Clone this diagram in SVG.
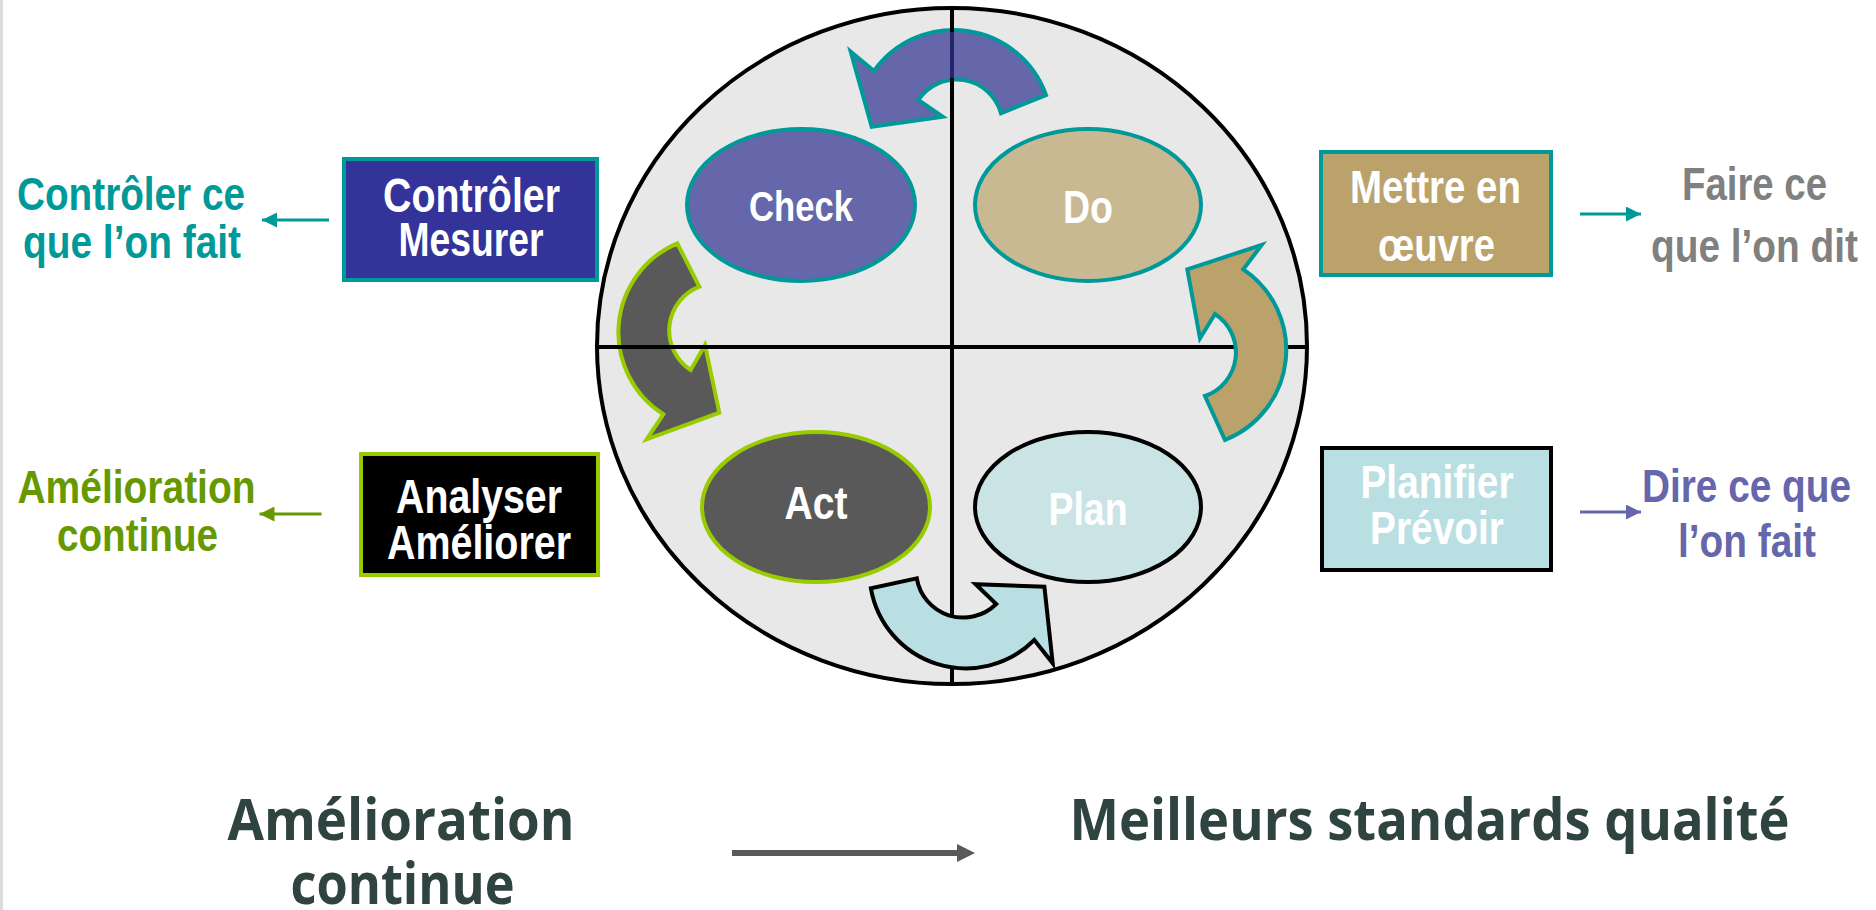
<svg xmlns="http://www.w3.org/2000/svg" width="1876" height="910" viewBox="0 0 1876 910">
<style>
.n{font-family:"Liberation Sans Narrow","Liberation Sans",Arial,sans-serif;font-weight:bold;text-anchor:middle}
.w{fill:#ffffff}
.b{font-family:"Open Sans","Noto Sans","Liberation Sans",sans-serif;font-weight:bold;text-anchor:middle;fill:#2f4340;font-size:58px}
.ln{stroke:#000;stroke-width:4;fill:none}
</style>
<defs>
<marker id="mTeal" viewBox="0 0 10 10" refX="10" refY="5" markerWidth="5" markerHeight="5" orient="auto" markerUnits="strokeWidth"><path d="M0 0L10 5L0 10Z" fill="#009999"/></marker>
<marker id="mOlive" viewBox="0 0 10 10" refX="10" refY="5" markerWidth="5" markerHeight="5" orient="auto" markerUnits="strokeWidth"><path d="M0 0L10 5L0 10Z" fill="#669900"/></marker>
<marker id="mPurple" viewBox="0 0 10 10" refX="10" refY="5" markerWidth="5" markerHeight="5" orient="auto" markerUnits="strokeWidth"><path d="M0 0L10 5L0 10Z" fill="#6666aa"/></marker>
</defs>
<rect x="0" y="0" width="1876" height="910" fill="#ffffff"/>
<rect x="0" y="0" width="3" height="910" fill="#dcdcdc"/>

<g id="cycle">
<ellipse cx="952" cy="346" rx="355" ry="338" fill="#e8e8e8" stroke="#000" stroke-width="4"/>
<path id="arrow-check-act" d="M677.3 243.3 L699.3 286.7 A47 47 0 0 0 690.7 370 L705 345 L719.3 412.7 L646.7 439.3 L663.3 414.3 A97 97 0 0 1 677.3 243.3 Z" fill="#595959" stroke="#99cc00" stroke-width="4" stroke-linejoin="miter"/>
<path id="arrow-do-check" d="M1046 95 A98 98 0 0 0 874 71 L850.7 51.7 L871.7 126.7 L942.7 116.7 L918.3 100 A46 46 0 0 1 1001 113.3 Z" fill="#6666aa" stroke="#009999" stroke-width="4"/>
<line class="ln" x1="952" y1="8" x2="952" y2="684"/>
<line class="ln" x1="597" y1="347" x2="1307" y2="347"/>
<line x1="952" y1="32" x2="952" y2="78" stroke="#25256b" stroke-width="4"/>
<path id="arrow-plan-do" d="M1225 440 A97 97 0 0 0 1243.3 269.3 L1261.7 245 L1187.3 269.3 L1200 338.3 L1215 314 A46 46 0 0 1 1205 396 Z" fill="#bba26b" stroke="#009999" stroke-width="4"/>
<path id="arrow-act-plan" d="M870.9 588.3 A96.5 96.5 0 0 0 1034.3 640 L1052.7 663.3 L1044.4 586.7 L975.6 584.3 L996.2 604 A47 47 0 0 1 916.8 578.3 Z" fill="#b9dfe3" stroke="#000" stroke-width="4"/>
</g>

<g id="node-check">
<ellipse cx="801" cy="205" rx="114" ry="76" fill="#6666aa" stroke="#009999" stroke-width="4"/>
<text class="n w" x="801" y="221" font-size="42" textLength="104" lengthAdjust="spacingAndGlyphs">Check</text>
</g>
<g id="node-do">
<ellipse cx="1088" cy="205" rx="113" ry="76" fill="#c9b993" stroke="#009999" stroke-width="4"/>
<text class="n w" x="1088" y="223" font-size="46" textLength="50" lengthAdjust="spacingAndGlyphs">Do</text>
</g>
<g id="node-act">
<ellipse cx="816" cy="507" rx="114" ry="75" fill="#595959" stroke="#99cc00" stroke-width="4"/>
<text class="n w" x="816" y="519" font-size="47" textLength="63" lengthAdjust="spacingAndGlyphs">Act</text>
</g>
<g id="node-plan">
<ellipse cx="1088" cy="507" rx="113" ry="75" fill="#cae3e5" stroke="#000" stroke-width="4"/>
<text class="n w" x="1088" y="525" font-size="47" textLength="79" lengthAdjust="spacingAndGlyphs">Plan</text>
</g>

<g id="box-controler">
<rect x="344" y="159" width="253" height="121" fill="#333399" stroke="#009999" stroke-width="4"/>
<text class="n w" x="471.5" y="211.5" font-size="48" textLength="177" lengthAdjust="spacingAndGlyphs">Contrôler</text>
<text class="n w" x="471" y="256" font-size="48" textLength="145" lengthAdjust="spacingAndGlyphs">Mesurer</text>
</g>
<g id="box-analyser">
<rect x="361" y="454" width="237" height="121" fill="#000000" stroke="#99cc00" stroke-width="4"/>
<text class="n w" x="479" y="513" font-size="48" textLength="166" lengthAdjust="spacingAndGlyphs">Analyser</text>
<text class="n w" x="479" y="559" font-size="48" textLength="184" lengthAdjust="spacingAndGlyphs">Améliorer</text>
</g>
<g id="box-mettre">
<rect x="1321" y="152" width="230" height="123" fill="#bba26b" stroke="#009999" stroke-width="4"/>
<text class="n w" x="1435.5" y="203" font-size="47" textLength="171" lengthAdjust="spacingAndGlyphs">Mettre en</text>
<text class="n w" x="1436.5" y="260.5" font-size="47" textLength="117" lengthAdjust="spacingAndGlyphs">œuvre</text>
</g>
<g id="box-planifier">
<rect x="1322" y="448" width="229" height="122" fill="#b9dfe3" stroke="#000" stroke-width="4"/>
<text class="n w" x="1437" y="498" font-size="47" textLength="153" lengthAdjust="spacingAndGlyphs">Planifier</text>
<text class="n w" x="1437" y="544" font-size="47" textLength="134" lengthAdjust="spacingAndGlyphs">Prévoir</text>
</g>

<g id="label-controler">
<text class="n" fill="#009999" x="131" y="210" font-size="46" textLength="228" lengthAdjust="spacingAndGlyphs">Contrôler ce</text>
<text class="n" fill="#009999" x="132" y="258" font-size="46" textLength="218" lengthAdjust="spacingAndGlyphs">que l’on fait</text>
</g>
<g id="label-amelioration">
<text class="n" fill="#669900" x="136.5" y="503" font-size="46" textLength="238" lengthAdjust="spacingAndGlyphs">Amélioration</text>
<text class="n" fill="#669900" x="137.5" y="551" font-size="46" textLength="161" lengthAdjust="spacingAndGlyphs">continue</text>
</g>
<g id="label-faire">
<text class="n" fill="#808080" x="1754.5" y="200" font-size="46" textLength="145" lengthAdjust="spacingAndGlyphs">Faire ce</text>
<text class="n" fill="#808080" x="1754.5" y="262" font-size="46" textLength="207" lengthAdjust="spacingAndGlyphs">que l’on dit</text>
</g>
<g id="label-dire">
<text class="n" fill="#6666aa" x="1746.5" y="502" font-size="46" textLength="209" lengthAdjust="spacingAndGlyphs">Dire ce que</text>
<text class="n" fill="#6666aa" x="1747" y="557" font-size="46" textLength="138" lengthAdjust="spacingAndGlyphs">l’on fait</text>
</g>

<g id="bottom">
<text class="b" x="401" y="840" textLength="347" lengthAdjust="spacingAndGlyphs">Amélioration</text>
<text class="b" x="402.5" y="904" textLength="224" lengthAdjust="spacingAndGlyphs">continue</text>
<text class="b" x="1429.5" y="840" textLength="720" lengthAdjust="spacingAndGlyphs">Meilleurs standards qualité</text>
</g>

<g id="connectors">
<line x1="329" y1="220" x2="262" y2="220" stroke="#009999" stroke-width="3" marker-end="url(#mTeal)"/>
<line x1="321.5" y1="514" x2="259.5" y2="514" stroke="#669900" stroke-width="3" marker-end="url(#mOlive)"/>
<line x1="1580" y1="214" x2="1641" y2="214" stroke="#009999" stroke-width="3" marker-end="url(#mTeal)"/>
<line x1="1580" y1="512" x2="1641" y2="512" stroke="#6666aa" stroke-width="3" marker-end="url(#mPurple)"/>
<path d="M732 850 L957 850 L957 844 L975 853 L957 862 L957 856 L732 856 Z" fill="#595959"/>
</g>
</svg>
